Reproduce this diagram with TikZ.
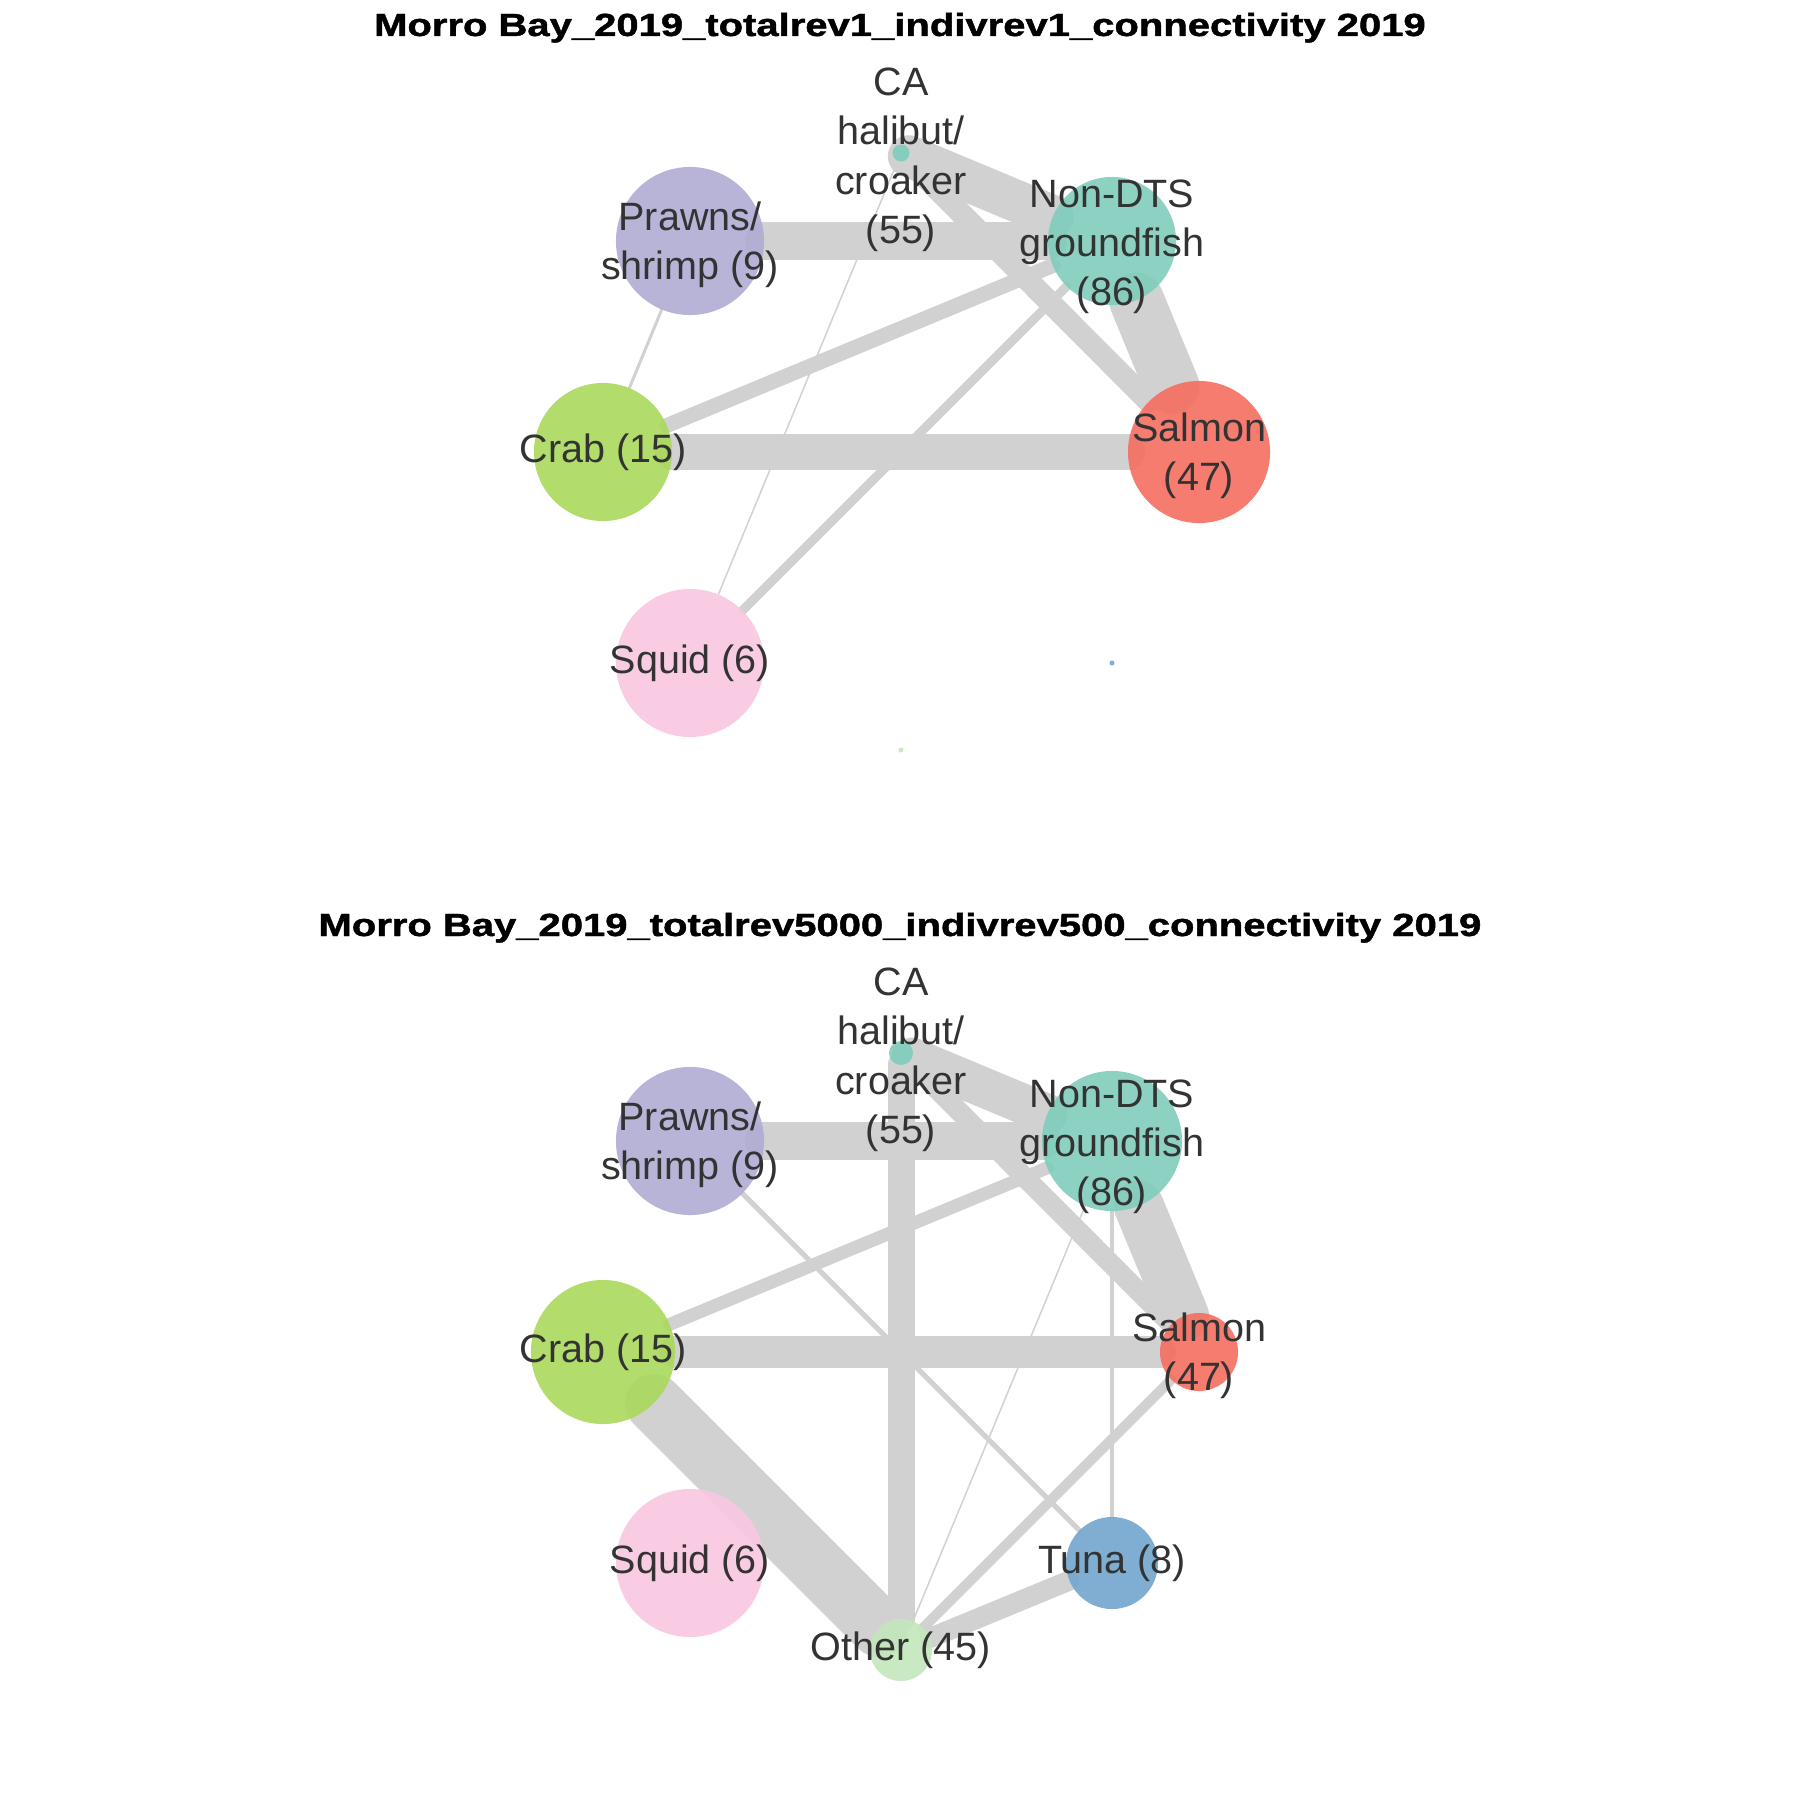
\documentclass[tikz,border=0pt]{standalone}
\usepackage{fontspec}
\setmainfont{Liberation Sans}
\newfontfamily\ttlfam{Liberation Sans}[BoldFeatures={FakeBold=1.2}]
\usetikzlibrary{backgrounds}

\definecolor{edgegray}{HTML}{D1D1D1}
\definecolor{txt}{HTML}{333333}
\definecolor{cNon}{HTML}{80CDBC}
\definecolor{cSal}{HTML}{F66E61}
\definecolor{cCrb}{HTML}{AAD95C}
\definecolor{cPrw}{HTML}{B0ACD3}
\definecolor{cSqd}{HTML}{F9C7E2}
\definecolor{cTun}{HTML}{72A6CE}
\definecolor{cOth}{HTML}{C3E7BB}

\pgfdeclarelayer{bg}
\pgfdeclarelayer{edges}
\pgfdeclarelayer{labels}
\pgfsetlayers{bg,edges,main,labels}

\newcommand{\lblfont}{\fontsize{11.24pt}{14.0pt}\selectfont}
\newcommand{\ttlfont}{\ttlfam\fontsize{9.1pt}{11pt}\selectfont\bfseries}

\tikzset{
  vtx/.style={circle, inner sep=0pt, outer sep=0pt, draw=none, fill opacity=0.9},
  lbl/.style={text=txt, font=\lblfont, align=center, inner sep=0pt},
  two/.style={lbl, yshift=-1pt},
  three/.style={lbl, yshift=-1.6pt},
  four/.style={lbl, yshift=-1.9pt},
  lnk/.style={draw=edgegray, line cap=round},
  ttl/.style={anchor=base, inner sep=0pt, font=\ttlfont, text=black}
}

\begin{document}
\begin{tikzpicture}[x=0.01cm, y=-0.01cm]
\begin{pgfonlayer}{bg}
  \fill[white] (0,0) rectangle (1800,1800);
\end{pgfonlayer}
\useasboundingbox (0,0) rectangle (1800,1800);

% ---------- upper network ----------
\node[ttl] (t1) at (900,36) {\scalebox{1.25}[1]{Morro Bay\_2019\_totalrev1\_indivrev1\_connectivity 2019}};

\node[vtx, fill=cNon, minimum size=0.17cm] (ca1)  at (901,153) {};
\node[vtx, fill=cNon, minimum size=1.28cm] (non1) at (1112,241) {};
\node[vtx, fill=cSal, minimum size=1.42cm] (sal1) at (1199,452) {};
\node[vtx, fill=cTun, minimum size=0.05cm] (tun1) at (1112,663) {};
\node[vtx, fill=cOth, minimum size=0.05cm] (oth1) at (901,750) {};
\node[vtx, fill=cSqd, minimum size=1.48cm] (sqd1) at (690,663) {};
\node[vtx, fill=cCrb, minimum size=1.38cm] (crb1) at (603,452) {};
\node[vtx, fill=cPrw, minimum size=1.48cm] (prw1) at (690,241) {};

\begin{pgfonlayer}{edges}
  \draw[lnk, line width=0.42cm]  (ca1) -- (non1);
  \draw[lnk, line width=0.22cm]  (ca1) -- (sal1);
  \draw[lnk, line width=0.015cm] (ca1) -- (sqd1);
  \draw[lnk, line width=0.38cm]  (prw1) -- (non1);
  \draw[lnk, line width=0.03cm]  (prw1) -- (crb1);
  \draw[lnk, line width=0.15cm]  (crb1) -- (non1);
  \draw[lnk, line width=0.35cm]  (crb1) -- (sal1);
  \draw[lnk, line width=0.55cm]  (non1) -- (sal1);
  \draw[lnk, line width=0.09cm]  (non1) -- (sqd1);
\end{pgfonlayer}

\begin{pgfonlayer}{labels}
  \node[four]  (l-ca1)  at (ca1)  {CA\\halibut/\\croaker\\(55)};
  \node[three] (l-non1) at (non1) {Non-DTS\\groundfish\\(86)};
  \node[two]   (l-sal1) at (sal1) {Salmon\\(47)};
  \node[lbl]   (l-sqd1) at (sqd1) {Squid (6)};
  \node[lbl]   (l-crb1) at (crb1) {Crab (15)};
  \node[two]   (l-prw1) at (prw1) {Prawns/\\shrimp (9)};
\end{pgfonlayer}

% ---------- lower network ----------
\node[ttl] (t2) at (900,936) {\scalebox{1.25}[1]{Morro Bay\_2019\_totalrev5000\_indivrev500\_connectivity 2019}};

\node[vtx, fill=cNon, minimum size=0.24cm] (ca2)  at (901,1053) {};
\node[vtx, fill=cNon, minimum size=1.40cm] (non2) at (1112,1141) {};
\node[vtx, fill=cSal, minimum size=0.78cm] (sal2) at (1199,1352) {};
\node[vtx, fill=cTun, minimum size=0.92cm] (tun2) at (1112,1563) {};
\node[vtx, fill=cOth, minimum size=0.62cm] (oth2) at (901,1650) {};
\node[vtx, fill=cSqd, minimum size=1.48cm] (sqd2) at (690,1563) {};
\node[vtx, fill=cCrb, minimum size=1.44cm] (crb2) at (603,1352) {};
\node[vtx, fill=cPrw, minimum size=1.48cm] (prw2) at (690,1141) {};

\begin{pgfonlayer}{edges}
  \draw[lnk, line width=0.40cm]  (ca2) -- (non2);
  \draw[lnk, line width=0.20cm]  (ca2) -- (sal2);
  \draw[lnk, line width=0.27cm]  (ca2) -- (oth2);
  \draw[lnk, line width=0.38cm]  (prw2) -- (non2);
  \draw[lnk, line width=0.05cm]  (prw2) -- (tun2);
  \draw[lnk, line width=0.13cm]  (crb2) -- (non2);
  \draw[lnk, line width=0.32cm]  (crb2) -- (sal2);
  \draw[lnk, line width=0.58cm]  (crb2) -- (oth2);
  \draw[lnk, line width=0.50cm]  (non2) -- (sal2);
  \draw[lnk, line width=0.045cm] (non2) -- (tun2);
  \draw[lnk, line width=0.015cm] (non2) -- (oth2);
  \draw[lnk, line width=0.10cm]  (sal2) -- (oth2);
  \draw[lnk, line width=0.20cm]  (tun2) -- (oth2);
\end{pgfonlayer}

\begin{pgfonlayer}{labels}
  \node[four]  (l-ca2)  at (ca2)  {CA\\halibut/\\croaker\\(55)};
  \node[three] (l-non2) at (non2) {Non-DTS\\groundfish\\(86)};
  \node[two]   (l-sal2) at (sal2) {Salmon\\(47)};
  \node[lbl]   (l-tun2) at (tun2) {Tuna (8)};
  \node[lbl]   (l-oth2) at (oth2) {Other (45)};
  \node[lbl]   (l-sqd2) at (sqd2) {Squid (6)};
  \node[lbl]   (l-crb2) at (crb2) {Crab (15)};
  \node[two]   (l-prw2) at (prw2) {Prawns/\\shrimp (9)};
\end{pgfonlayer}
\end{tikzpicture}
\end{document}
